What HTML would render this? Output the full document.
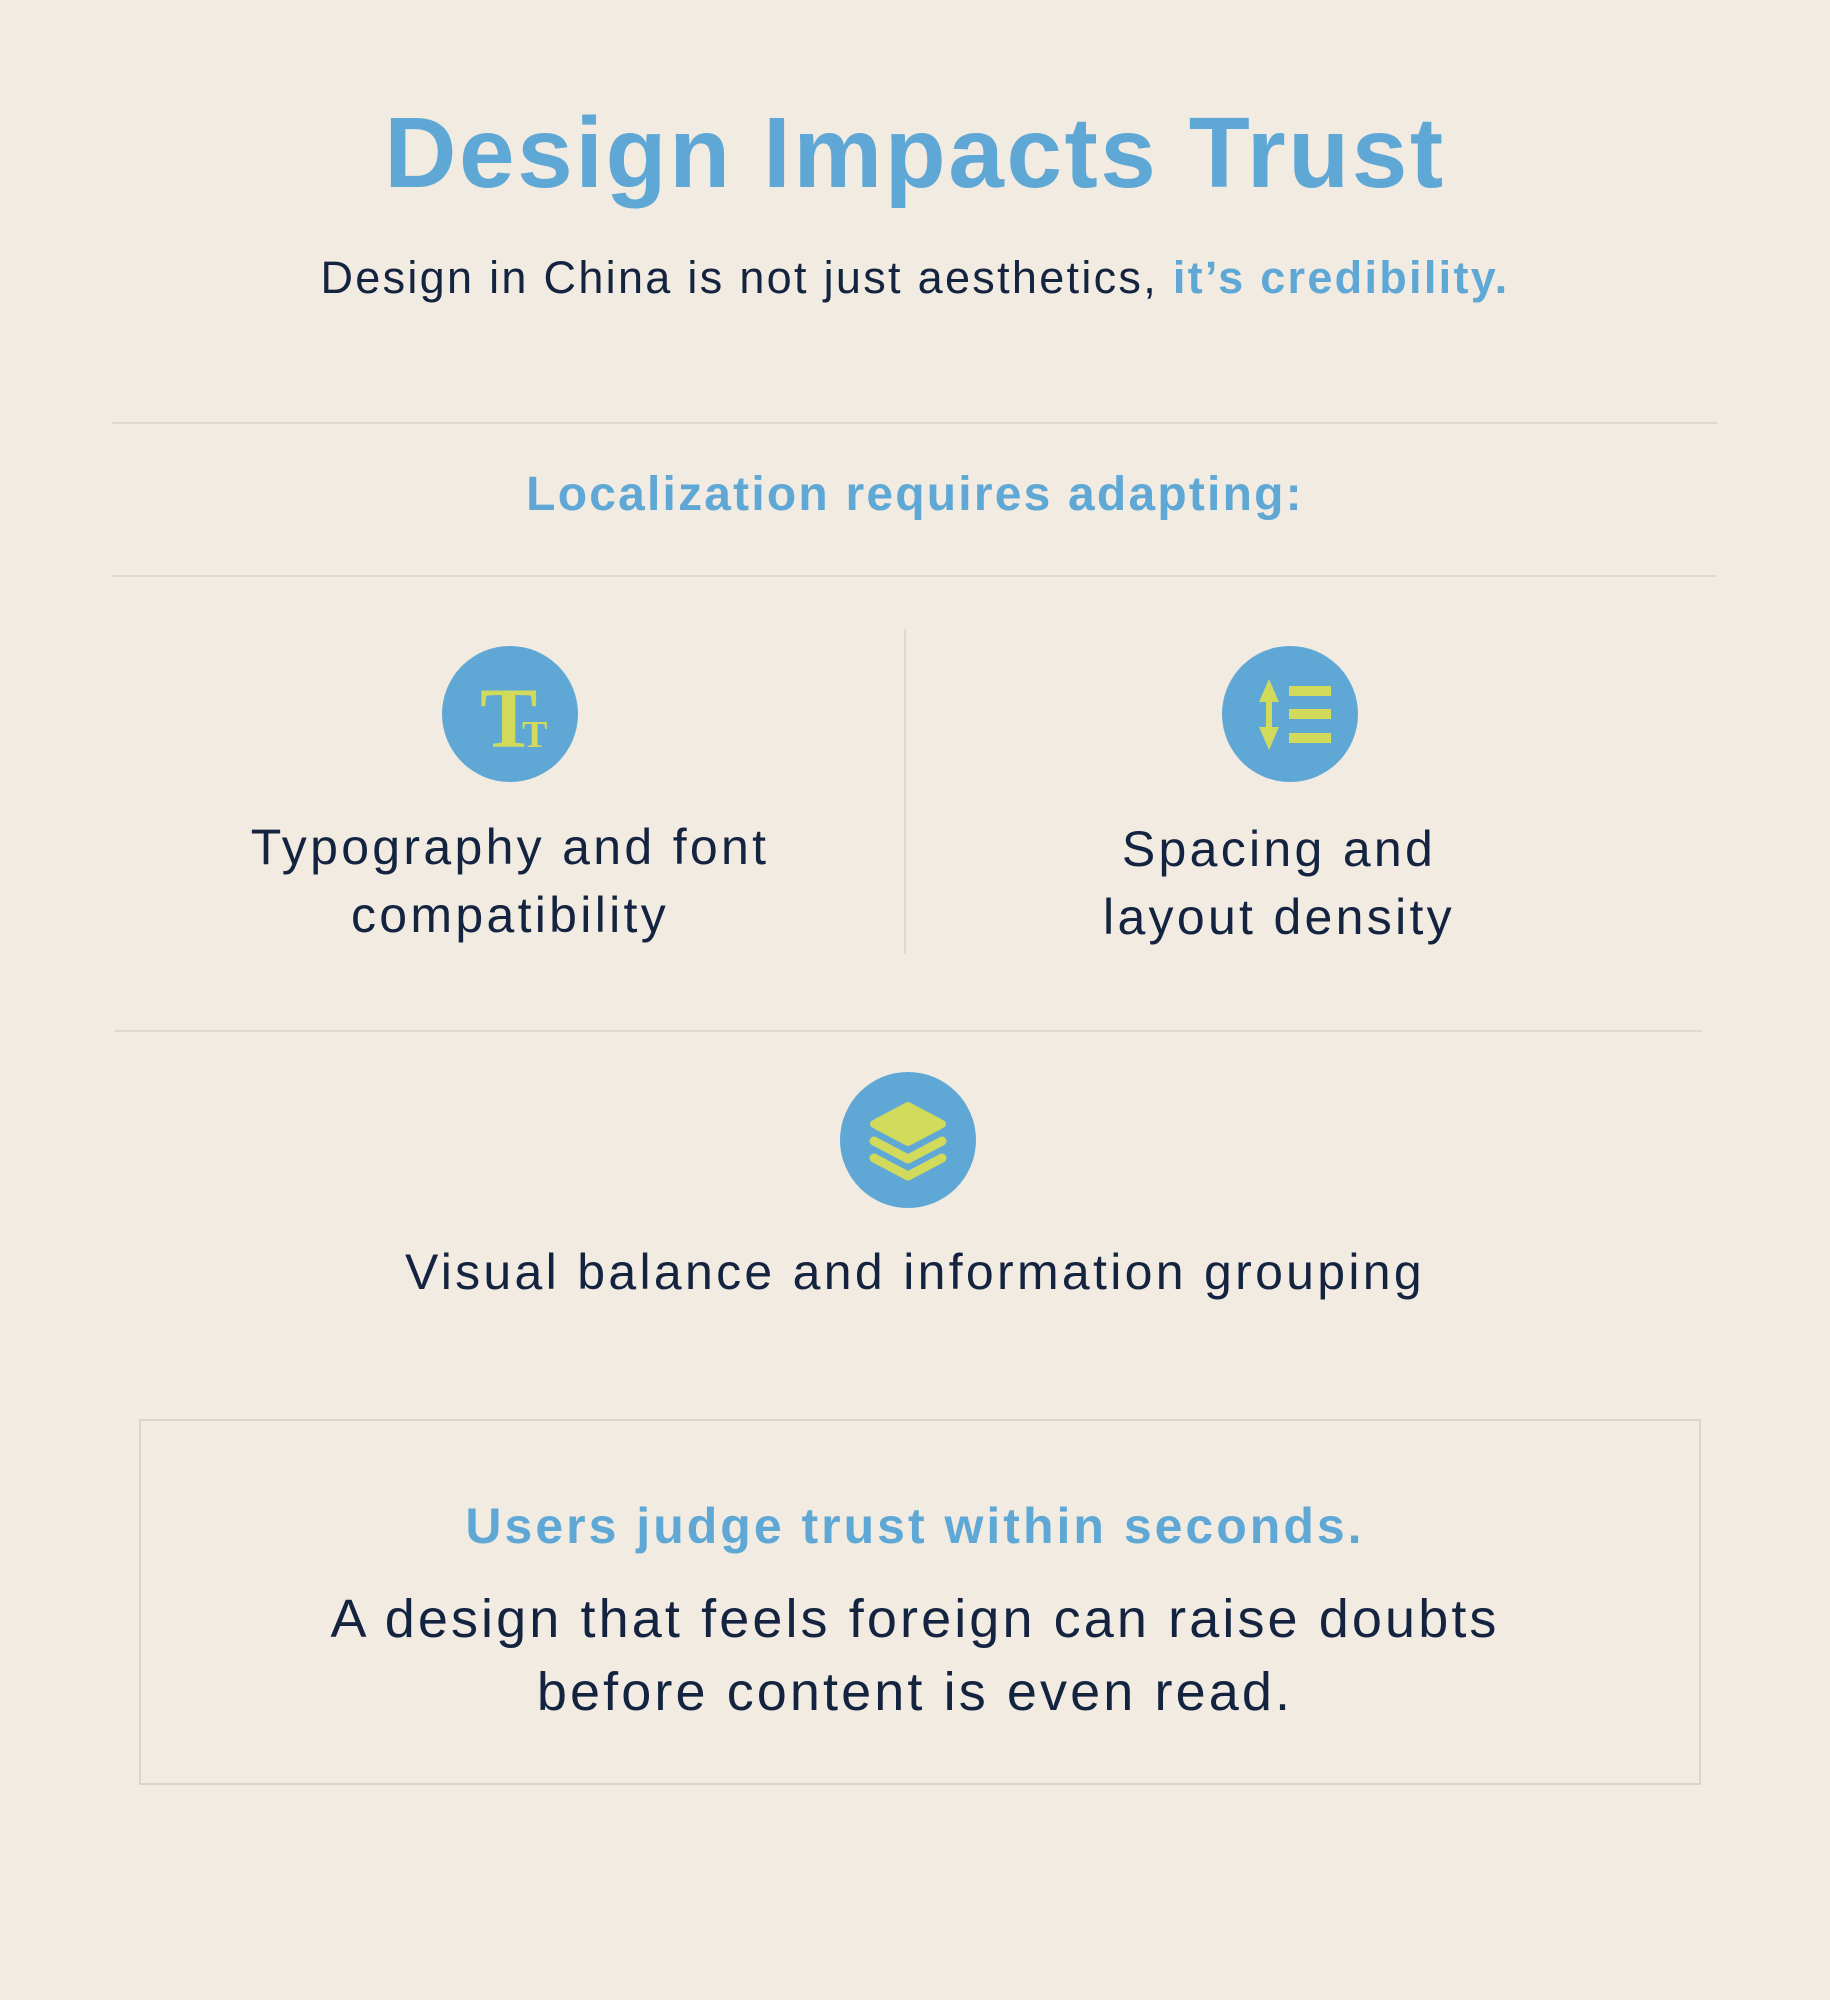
<!DOCTYPE html>
<html><head><meta charset="utf-8"><style>
*{margin:0;padding:0;box-sizing:border-box}
body{width:1830px;height:2000px;background:#f1ebe1;position:relative;overflow:hidden;font-family:"Liberation Sans",sans-serif;color:#14233f}
.t{position:absolute;left:0;width:1830px;text-align:center;white-space:nowrap}
.hl{position:absolute;height:2px;background:#dedacf}
.circ{position:absolute;width:136px;height:136px;border-radius:50%;background:#5fa8d6}
.blue{color:#5fa8d6}
.m{font-size:50px;letter-spacing:3.3px}
</style></head><body>
<div class="t blue" style="top:90px;height:126px;line-height:126px;font-size:100px;font-weight:bold;letter-spacing:2.5px">Design Impacts Trust</div>
<div class="t" style="top:250px;height:56px;line-height:56px;font-size:45px;letter-spacing:2.3px">Design in China is not just aesthetics, <b class="blue">it’s credibility.</b></div>
<div class="hl" style="left:112px;width:1605px;top:422px"></div>
<div class="t blue" style="top:467px;height:56px;line-height:56px;font-size:48px;font-weight:bold;letter-spacing:2.2px">Localization requires adapting:</div>
<div class="hl" style="left:112px;width:1605px;top:575px"></div>
<div style="position:absolute;left:904px;top:629px;width:2px;height:325px;background:#dedacf"></div>

<div class="circ" style="left:442px;top:646px"></div>
<svg style="position:absolute;left:442px;top:646px" width="136" height="136">
<text x="38" y="101" font-family="Liberation Serif,serif" font-weight="bold" font-size="86" fill="#d2da5c">T</text>
<text x="80" y="101" font-family="Liberation Serif,serif" font-weight="bold" font-size="38" fill="#d2da5c">T</text>
</svg>
<div class="circ" style="left:1222px;top:646px"></div>
<svg style="position:absolute;left:1222px;top:646px" width="136" height="136">
<polygon points="47,33 57,56 37,56" fill="#d2da5c"/><rect x="44" y="52" width="6" height="34" fill="#d2da5c"/><polygon points="47,104 57,81 37,81" fill="#d2da5c"/>
<rect x="67" y="40" width="42" height="10" fill="#d2da5c"/><rect x="67" y="63" width="42" height="10" fill="#d2da5c"/><rect x="67" y="87" width="42" height="10" fill="#d2da5c"/>
</svg>

<div class="t m" style="left:10px;width:1000px;top:817px;height:60px;line-height:60px">Typography and font</div>
<div class="t m" style="left:10px;width:1000px;top:885px;height:60px;line-height:60px">compatibility</div>
<div class="t m" style="left:779px;width:1000px;top:819px;height:60px;line-height:60px">Spacing and</div>
<div class="t m" style="left:779px;width:1000px;top:887px;height:60px;line-height:60px">layout density</div>

<div class="hl" style="left:115px;width:1587px;top:1030px"></div>
<div class="circ" style="left:840px;top:1072px"></div>
<svg style="position:absolute;left:840px;top:1072px" width="136" height="136">
<g fill="#d2da5c" stroke="#d2da5c" stroke-linejoin="round" stroke-linecap="round">
<polygon points="68,34 102,52 68,70 34,52" stroke-width="8"/>
<polyline points="34,69 68,87 102,69" fill="none" stroke-width="9"/>
<polyline points="34,86 68,104 102,86" fill="none" stroke-width="9"/>
</g></svg>
<div class="t m" style="top:1242px;height:60px;line-height:60px">Visual balance and information grouping</div>

<div style="position:absolute;left:139px;top:1419px;width:1562px;height:366px;border:2px solid #d8d5ca"></div>
<div class="t blue" style="top:1496px;height:60px;line-height:60px;font-size:50px;font-weight:bold;letter-spacing:3px">Users judge trust within seconds.</div>
<div class="t" style="top:1587px;height:64px;line-height:64px;font-size:54px;letter-spacing:3.1px">A design that feels foreign can raise doubts</div>
<div class="t" style="top:1660px;height:64px;line-height:64px;font-size:54px;letter-spacing:3.1px">before content is even read.</div>
</body></html>
